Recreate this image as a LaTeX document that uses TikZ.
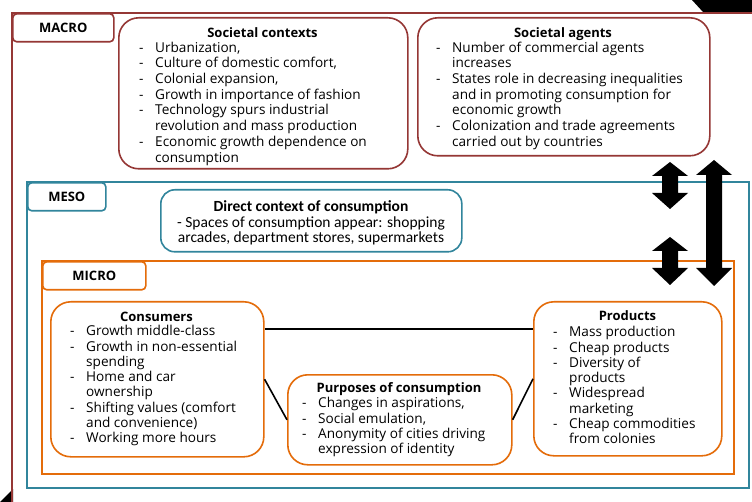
\documentclass[tikz,border=0pt]{standalone}
\usepackage{fontspec}
\setmainfont{Open Sans}
\newfontfamily\calfont{Carlito}
\definecolor{macroc}{HTML}{953735}
\definecolor{mesoc}{HTML}{31859C}
\definecolor{microc}{HTML}{E46C0A}
\newlength\dw
\setlength\dw{16pt}
\newcommand\bl[1]{\makebox[\dw][l]{-}#1}
\newcommand\cl[1]{\hspace*{\dw}#1}
\newcommand\fr{\rule{0pt}{10.5pt}}
\newcommand\dblarrow[7]{% c t hb1 hb2 b s h
  \fill[black] (#1,#2) -- ({#1+#7},#3) -- ({#1+#6},#3) -- ({#1+#6},#4) -- ({#1+#7},#4) -- (#1,#5)
    -- ({#1-#7},#4) -- ({#1-#6},#4) -- ({#1-#6},#3) -- ({#1-#7},#3) -- cycle;}
\begin{document}
\begin{tikzpicture}[x=1pt,y=-1pt,
  frame/.style={line width=1.6pt},
  box/.style={line width=1.6pt, rounded corners=20pt, fill=white, rectangle, inner sep=0pt, anchor=north west},
  lab/.style={line width=1.6pt, rounded corners=4pt, fill=white, rectangle, inner sep=0pt, anchor=north west},
  labt/.style={font=\bfseries\fontsize{13}{15}\selectfont, inner sep=0pt},
  ttl/.style={font=\bfseries\fontsize{13}{15}\selectfont, inner sep=0pt, anchor=base},
  body/.style={font=\fontsize{13.6}{15.3}\selectfont, align=left, inner sep=0pt, anchor=north west},
  bodym/.style={font=\fontsize{13.6}{15.7}\selectfont, align=left, inner sep=0pt, anchor=north west},
  link/.style={line width=1.6pt, black},
]
\useasboundingbox (0,0) rectangle (752,502);
\fill[white] (0,0) rectangle (752,502);

% black corner wedges
\fill[black] (692,0) -- (752,0) -- (752,12) -- (703,12) -- cycle;
\fill[black] (0,502) -- (13,489) -- (13,502) -- cycle;

% MACRO frame
\draw[frame, macroc] (12,502) -- (12,13) -- (752,13);
\node[lab, draw=macroc, minimum width=101pt, minimum height=28pt] (macrolab) at (12,13) {};
\node[labt] (macrot) at (macrolab.center) {MACRO};

% Societal contexts
\node[box, draw=macroc, minimum width=289pt, minimum height=151pt] (ctx) at (118,17) {};
\node[ttl] (ctxT) at (262.5,37.5) {Societal contexts};
\node[bodym] (ctxB) at (139,41.5) {\fr\bl{Urbanization,}\\
\bl{Culture of domestic comfort,}\\
\bl{Colonial expansion,}\\
\bl{Growth in importance of fashion}\\
\bl{Technology spurs industrial}\\
\cl{revolution and mass production}\\
\bl{Economic growth dependence on}\\
\cl{consumption}};

% Societal agents
\node[box, draw=macroc, minimum width=292pt, minimum height=138pt] (agt) at (417,17) {};
\node[ttl] (agtT) at (563,37.5) {Societal agents};
\node[bodym] (agtB) at (436,41.5) {\fr\bl{Number of commercial agents}\\
\cl{increases}\\
\bl{States role in decreasing inequalities}\\
\cl{and in promoting consumption for}\\
\cl{economic growth}\\
\bl{Colonization and trade agreements}\\
\cl{carried out by countries}};

% MESO frame
\draw[frame, mesoc] (27,182) rectangle (749,488);
\node[lab, draw=mesoc, minimum width=78pt, minimum height=28pt] (mesolab) at (27,182) {};
\node[labt] (mesot) at (mesolab.center) {MESO};

% Direct context
\node[box, draw=mesoc, minimum width=301pt, minimum height=62pt, rounded corners=14pt] (dir) at (160,189) {};
\node[font=\calfont\fontsize{15.5}{15.5}\selectfont, align=center, inner sep=0pt] (dirT) at (311,223)
  {\textbf{Direct context of consumption}\\- Spaces of consumption appear: shopping\\arcades, department stores, supermarkets};

% MICRO frame
\draw[frame, microc] (42,261) rectangle (734,474);
\node[lab, draw=microc, minimum width=103pt, minimum height=28pt] (microlab) at (42,261) {};
\node[labt] (microt) at (microlab.center) {MICRO};

% Consumers
\node[box, draw=microc, minimum width=213pt, minimum height=155pt] (cons) at (50,301) {};
\node[ttl] (consT) at (156.5,321.5) {Consumers};
\node[body] (consB) at (70,325) {\fr\bl{Growth middle-class}\\
\bl{Growth in non-essential}\\
\cl{spending}\\
\bl{Home and car}\\
\cl{ownership}\\
\bl{Shifting values (comfort}\\
\cl{and convenience)}\\
\bl{Working more hours}};

% Purposes
\node[box, draw=microc, minimum width=224pt, minimum height=90pt] (purp) at (287,374) {};
\node[ttl] (purpT) at (399,392.5) {Purposes of consumption};
\node[body] (purpB) at (302,397) {\fr\bl{Changes in aspirations,}\\
\bl{Social emulation,}\\
\bl{Anonymity of cities driving}\\
\cl{expression of identity}};

% Products
\node[box, draw=microc, minimum width=188pt, minimum height=154pt] (prod) at (533,301) {};
\node[ttl] (prodT) at (627.5,320.5) {Products};
\node[body] (prodB) at (553,326) {\fr\bl{Mass production}\\
\bl{Cheap products}\\
\bl{Diversity of}\\
\cl{products}\\
\bl{Widespread}\\
\cl{marketing}\\
\bl{Cheap commodities}\\
\cl{from colonies}};

% connectors
\draw[link] ([yshift=-28pt]cons.north east) -- ([yshift=-28pt]prod.north west);
\draw[link] (cons.east) -- (purp.west);
\draw[link] (purp.east) -- (prod.west);

% double arrows
\dblarrow{670}{162}{176}{193}{209}{8}{18}
\dblarrow{670}{237}{251}{268}{285}{8}{18}
\dblarrow{714}{160}{175}{268}{286}{8}{18}
\end{tikzpicture}
\end{document}
